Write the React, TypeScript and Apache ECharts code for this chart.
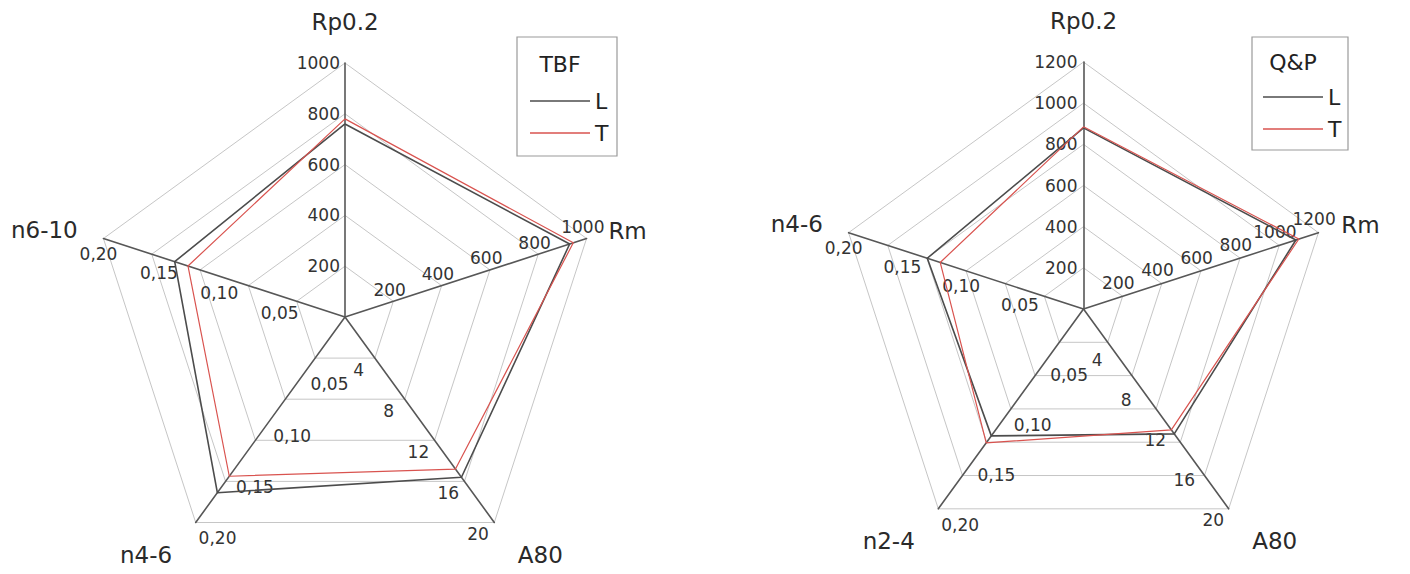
import React, { useEffect, useRef } from 'react';
import * as echarts from 'echarts';

// ---- Data ----
const leftIndicators = ['Rp0.2', 'n6-10', 'n4-6', 'A80', 'Rm'];
const leftMax = [1000, 0.2, 0.2, 20, 1000];
const leftL = [760, 0.141, 0.171, 15.6, 930];
const leftT = [780, 0.13, 0.155, 14.8, 945];

const rightIndicators = ['Rp0.2', 'n4-6', 'n2-4', 'A80', 'Rm'];
const rightMax = [1200, 0.2, 0.2, 20, 1200];
const rightL = [880, 0.133, 0.127, 12.5, 1085];
const rightT = [885, 0.122, 0.134, 12.1, 1100];

const seriesNames = ['L', 'T'];
const legendTitles = ['TBF', 'Q&P'];

const FONT = 'DejaVu Sans';
const intFmt = (v: number) => (v === 0 ? '' : String(Math.round(v)));
const decFmt = (v: number) => (v === 0 ? '' : v.toFixed(2).replace('.', ','));
const rmRightMax = rightMax[4];
const rmInnerFmt = (v: number) => (v === 0 || Math.round(v) === rmRightMax ? '' : String(Math.round(v)));
const rmOuterFmt = (v: number) => (Math.round(v) === rmRightMax ? String(rmRightMax) : '');

const hideLabel = { show: false };
const lbl = (align: string, margin: number, formatter: any) => ({
  show: true,
  align,
  verticalAlign: 'middle',
  margin,
  formatter,
  showMaxLabel: true,
  hideOverlap: false,
});

function baseRadar(center: number[], radius: number, splitNumber: number, indicator: any[], main: boolean) {
  return {
    center,
    radius,
    startAngle: 90,
    splitNumber,
    shape: 'polygon',
    indicator,
    axisName: main
      ? { show: true, color: '#2a2a2a', fontSize: 23, fontFamily: FONT }
      : { show: false },
    axisLine: main
      ? { show: true, lineStyle: { color: '#575757', width: 1.6 } }
      : { show: false },
    axisTick: { show: false },
    splitLine: main
      ? { show: true, lineStyle: { color: '#c6c6c6', width: 1 } }
      : { show: false },
    splitArea: { show: false },
    axisLabel: { show: false, fontSize: 17, fontFamily: FONT, color: '#333333' },
  };
}

export default function App() {
  const ref = useRef<HTMLDivElement>(null);
  useEffect(() => {
    document.body.style.margin = '0';
    if (!ref.current) return;
    const chart = echarts.init(ref.current, undefined, { renderer: 'svg' });

    const leftGaps = [30, 27, 40, 40, 22];
    const rightGaps = [30, 27, 40, 40, 24];

    // Left chart radars
    const lMain = baseRadar([345, 317], 254, 5, leftIndicators.map((n, i) => ({
      name: n,
      max: leftMax[i],
      nameGap: leftGaps[i],
      axisLabel: i === 0 ? lbl('right', 5, intFmt) : i === 3 ? lbl('center', -20, intFmt) : i === 4 ? lbl('center', 12, intFmt) : hideLabel,
    })), true);
    const lN = baseRadar([345, 317], 254, 4, leftIndicators.map((n, i) => ({
      name: n,
      max: leftMax[i],
      axisLabel: i === 1 ? lbl('center', 16, decFmt) : i === 2 ? lbl('center', 27, decFmt) : hideLabel,
    })), false);

    // Right chart radars
    const rMain = baseRadar([1083.5, 309], 247, 6, rightIndicators.map((n, i) => ({
      name: n,
      max: rightMax[i],
      nameGap: rightGaps[i],
      axisLabel: i === 0 ? lbl('right', 6, intFmt) : hideLabel,
    })), true);
    const rRm = baseRadar([1083.5, 309], 247, 6, rightIndicators.map((n, i) => ({
      name: n,
      max: rightMax[i],
      axisLabel: i === 4 ? lbl('center', 14, rmInnerFmt) : hideLabel,
    })), false);
    const rRm2 = baseRadar([1083.5, 309], 247, 6, rightIndicators.map((n, i) => ({
      name: n,
      max: rightMax[i],
      axisLabel: i === 4 ? lbl('center', 14, rmOuterFmt) : hideLabel,
    })), false);
    const rA = baseRadar([1083.5, 309], 247, 5, rightIndicators.map((n, i) => ({
      name: n,
      max: rightMax[i],
      axisLabel: i === 3 ? lbl('center', -19, intFmt) : hideLabel,
    })), false);
    const rN = baseRadar([1083.5, 309], 247, 4, rightIndicators.map((n, i) => ({
      name: n,
      max: rightMax[i],
      axisLabel: i === 1 ? lbl('center', 16, decFmt) : i === 2 ? lbl('center', 27, decFmt) : hideLabel,
    })), false);

    const colors = ['#4c4c4c', '#d9534f'];
    const widths = [1.6, 1.2];
    const mk = (radarIndex: number, k: number, values: number[]) => ({
      type: 'radar',
      radarIndex,
      name: seriesNames[k],
      symbol: 'none',
      z: 3 + k,
      lineStyle: { color: colors[k], width: widths[k] },
      itemStyle: { color: colors[k] },
      data: [{ value: values, name: seriesNames[k] }],
    });

    const legendBase = {
      data: seriesNames,
      orient: 'vertical',
      icon: 'rect',
      itemWidth: 60,
      itemHeight: 1.5,
      itemGap: 10,
      selectedMode: false,
      textStyle: { fontSize: 22, fontFamily: FONT, color: '#222', lineHeight: 22 },
    };

    chart.setOption({
      animation: false,
      backgroundColor: '#ffffff',
      radar: [lMain, lN, rMain, rRm, rRm2, rA, rN],
      legend: [
        { ...legendBase, left: 525, top: 85 },
        { ...legendBase, left: 1258, top: 81 },
      ],
      graphic: [
        { type: 'rect', shape: { x: 517, y: 37, width: 100, height: 119 }, style: { fill: 'none', stroke: '#9a9a9a', lineWidth: 1.2 } },
        { type: 'text', x: 560, y: 64, style: { text: legendTitles[0], fontSize: 22, fontFamily: FONT, fill: '#222', align: 'center', verticalAlign: 'middle' } },
        { type: 'rect', shape: { x: 1252, y: 37, width: 96, height: 113 }, style: { fill: 'none', stroke: '#9a9a9a', lineWidth: 1.2 } },
        { type: 'text', x: 1293, y: 62, style: { text: legendTitles[1], fontSize: 22, fontFamily: FONT, fill: '#222', align: 'center', verticalAlign: 'middle' } },
      ],
      series: [
        mk(0, 0, leftL),
        mk(0, 1, leftT),
        mk(2, 0, rightL),
        mk(2, 1, rightT),
      ],
    });
    return () => chart.dispose();
  }, []);
  return <div ref={ref} style={{ width: 1410, height: 574 }} />;
}
